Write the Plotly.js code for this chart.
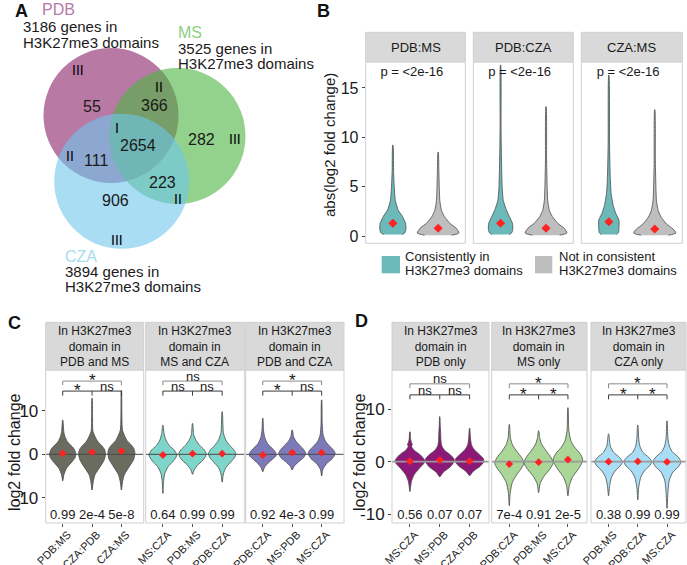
<!DOCTYPE html>
<html><head><meta charset="utf-8">
<script src="https://cdn.plot.ly/plotly-3.0.1.min.js"></script>
<style>html,body{margin:0;padding:0;background:#fff}#chart{width:687px;height:565px}</style>
</head><body><div id="chart"></div>
<script>
const W = 687, H = 565;
const FONT = '"Liberation Sans", Arial, Helvetica, sans-serif';
const TXT = '#1a1a1a';

// ---------------- Panel A data (Venn) ----------------
const vennSets = ["PDB", "MS", "CZA"];
const vennTotals = [3186, 3525, 3894];
const vennCounts = [55, 366, 2654, 282, 111, 223, 906];     // PDB only, PDB&MS, all, MS only, PDB&CZA, MS&CZA, CZA only
const vennClasses = ["III", "II", "I", "III", "II", "II", "III"];

// ---------------- Panel B data ----------------
const bPanels = ["PDB:MS", "PDB:CZA", "CZA:MS"];
const bGroups = [["Consistently in", "H3K27me3 domains"], ["Not in consistent", "H3K27me3 domains"]];
const bPvals = ["p = &lt;2e-16", "p = &lt;2e-16", "p = &lt;2e-16"];
const bMeans = [[1.29, 0.78], [1.29, 0.78], [1.45, 0.71]];
const bProfileY = [
  [[0.15,0.35,0.8,1.3,1.7,2.0,2.6,3.6,5.0,6.7,9.2], [0.08,0.3,0.78,1.28,1.96,2.6,3.6,5.0,6.7,8.5]],
  [[0.15,0.35,0.8,1.3,2.0,2.6,3.6,5.0,7.7,11,17.3], [0.08,0.3,0.78,1.28,1.96,2.6,3.6,5.0,7.5,13.1]],
  [[0.15,0.35,0.8,1.6,2.3,3.0,4.3,6.0,9.4,16.3], [0.08,0.3,0.7,1.2,1.9,2.6,3.6,5.0,7.5,12.8]]
];
const bProfileW = [
  [[0.2,0.27,0.29,0.28,0.24,0.21,0.12,0.055,0.03,0.015,0.004], [0.3,0.46,0.40,0.26,0.14,0.073,0.037,0.025,0.015,0.003]],
  [[0.19,0.25,0.27,0.26,0.19,0.13,0.06,0.035,0.02,0.01,0.003], [0.3,0.46,0.40,0.26,0.14,0.073,0.037,0.025,0.013,0.003]],
  [[0.17,0.21,0.22,0.22,0.15,0.1,0.05,0.03,0.015,0.003], [0.3,0.46,0.40,0.26,0.14,0.073,0.037,0.025,0.013,0.003]]
];

// ---------------- Panel C data ----------------
const cStrips = ["In H3K27me3<br>domain in<br>PDB and MS", "In H3K27me3<br>domain in<br>MS and CZA", "In H3K27me3<br>domain in<br>PDB and CZA"];
const cLabels = [["PDB:MS","CZA:PDB","CZA:MS"], ["MS:CZA","PDB:MS","PDB:CZA"], ["PDB:CZA","MS:PDB","MS:CZA"]];
const cPvals = [["0.99","2e-4","5e-8"], ["0.64","0.99","0.99"], ["0.92","4e-3","0.99"]];
const cMeans = [[0.2,0.5,0.75], [-0.15,0.15,0.15], [-0.15,0.38,0.38]];
const cSig = [["*","*","ns"], ["ns","ns","ns"], ["*","*","ns"]];   // top, lower-left, lower-right
const cProfileY = [
  [[-6.1,-4.7,-3.2,-1.7,-0.8,0,0.8,1.5,2.9,4.2,5.3,7.9],
   [-8.2,-6.3,-4.7,-2.5,-1.2,0.2,1.2,2.0,3.0,5.2,9.0,12.9],
   [-8.2,-6.3,-4.7,-2.5,-1.2,0.4,1.4,2.2,3.2,5.5,9.5,14.7]],
  [[-9.0,-6.5,-4.5,-2.8,-1.5,-0.2,1.0,2.0,3.3,4.8,6.7],
   [-4.6,-3.5,-2.5,-1.5,-0.5,0.2,1.0,2.0,3.2,4.5,7.1],
   [-6.4,-4.5,-3.0,-1.7,-0.6,0.2,1.0,2.0,3.3,5.0,9.8]],
  [[-4.0,-3.0,-2.0,-1.0,-0.2,0.6,1.5,2.5,3.8,5.5,8.3],
   [-3.6,-2.8,-1.8,-0.8,0.2,1.0,2.0,3.0,4.0,5.6],
   [-5.0,-3.5,-2.2,-1.0,0.2,1.0,2.0,3.0,4.5,7.0,12.5]]
];
const cProfileW = [
  [[0.005,0.04,0.13,0.32,0.42,0.45,0.42,0.36,0.16,0.07,0.035,0.005],
   [0.005,0.04,0.1,0.31,0.42,0.46,0.42,0.33,0.19,0.035,0.015,0.004],
   [0.005,0.04,0.1,0.3,0.42,0.46,0.42,0.33,0.19,0.04,0.015,0.004]],
  [[0.005,0.02,0.06,0.18,0.36,0.47,0.38,0.22,0.1,0.04,0.005],
   [0.005,0.06,0.17,0.33,0.44,0.46,0.4,0.25,0.12,0.04,0.005],
   [0.005,0.04,0.13,0.3,0.43,0.46,0.4,0.26,0.12,0.04,0.005]],
  [[0.005,0.06,0.18,0.35,0.46,0.42,0.3,0.16,0.07,0.025,0.005],
   [0.005,0.06,0.2,0.38,0.46,0.4,0.27,0.13,0.05,0.005],
   [0.005,0.04,0.16,0.36,0.46,0.4,0.26,0.13,0.05,0.02,0.004]]
];

// ---------------- Panel D data ----------------
const dStrips = ["In H3K27me3<br>domain in<br>PDB only", "In H3K27me3<br>domain in<br>MS only", "In H3K27me3<br>domain in<br>CZA only"];
const dLabels = [["MS:CZA","MS:PDB","CZA:PDB"], ["PDB:CZA","PDB:MS","MS:CZA"], ["PDB:MS","PDB:CZA","MS:CZA"]];
const dPvals = [["0.56","0.07","0.07"], ["7e-4","0.91","2e-5"], ["0.38","0.99","0.99"]];
const dMeans = [[0.1,0.3,0.1], [-0.45,-0.1,0.4], [0.0,0.05,-0.05]];
const dSig = [["ns","ns","ns"], ["*","*","*"], ["*","*","*"]];
const dProfileY = [
  [[-5.7,-3.8,-2.5,-1.3,-0.3,0.3,1.3,2.2,2.9,3.3,3.7,4.3,5.7],
   [-2.9,-2.0,-1.0,0,0.5,1.3,2.2,3.0,4.0,5.5,7.0,8.6],
   [-2.7,-1.8,-0.9,0,0.6,1.4,2.4,3.3,4.5,6.4]],
  [[-8.4,-6.0,-4.0,-2.5,-1.2,-0.3,0.8,2.0,3.2,4.5,7.1],
   [-5.9,-4.2,-2.8,-1.5,-0.2,1.0,2.2,3.4,4.5,5.9],
   [-6.5,-4.5,-3.0,-1.5,-0.3,0.5,1.5,2.8,4.0,6.0,10.3]],
  [[-6.5,-4.5,-3.0,-1.8,-0.8,0,0.8,1.8,3.0,5.3],
   [-7.3,-5.0,-3.0,-1.8,-0.8,0,0.8,1.8,3.0,4.5,7.0],
   [-8.9,-6.0,-3.5,-2.0,-0.9,0,0.9,1.9,3.0,4.5,7.8]]
];
const dProfileW = [
  [[0.005,0.05,0.14,0.31,0.47,0.49,0.35,0.14,0.055,0.08,0.05,0.025,0.005],
   [0.005,0.12,0.35,0.48,0.48,0.36,0.16,0.07,0.04,0.03,0.015,0.004],
   [0.005,0.13,0.35,0.48,0.46,0.32,0.14,0.06,0.03,0.004]],
  [[0.005,0.03,0.1,0.25,0.42,0.5,0.42,0.25,0.11,0.04,0.005],
   [0.005,0.05,0.18,0.37,0.5,0.4,0.24,0.1,0.04,0.005],
   [0.005,0.05,0.15,0.34,0.47,0.5,0.42,0.22,0.1,0.03,0.004]],
  [[0.005,0.04,0.1,0.22,0.4,0.48,0.38,0.17,0.06,0.005],
   [0.005,0.03,0.1,0.22,0.4,0.48,0.38,0.17,0.07,0.03,0.004],
   [0.005,0.03,0.08,0.2,0.4,0.48,0.38,0.18,0.08,0.03,0.004]]
];

// ---------------- styling / geometry ----------------
const bColors = ['#6cb9ba', '#bebebe'];
const cColors = ['#6a6c5f', '#7ed6ca', '#7d7ab9'];
const dColors = ['#8c1978', '#aad698', '#a8def5'];
const vennFill = ['rgba(137,33,105,0.6)', 'rgba(75,180,63,0.6)', 'rgba(110,198,237,0.6)'];
const vennLabelColor = ['#b57aa9', '#8fce86', '#a6dbf3'];
const vennCircles = [[111, 115.5, 67.5], [177.5, 136, 68], [121.7, 181.3, 67.5]];
const vennTitlePos = [[40, 9.5, 20.7, 27, 42], [176, 32.5, 176, 48.5, 63.5], [62.7, 256, 62.7, 271, 286]];
const vennCountPos = [[92.3,106.7],[154,105],[137.7,145.7],[201,139.3],[95.7,160.7],[162,182.7],[115,200.7]];
const vennClassPos = [[78.3,70],[158.7,87.3],[116.7,128.3],[235,139.3],[70,156],[177.7,199],[116.7,240]];

const bDom = [[365.7,465.3],[473.3,573.3],[581.3,682.3]];
const bYdom = [62, 243.3];
const cDom = [[45.7,143.7],[145.7,244.7],[245.7,344]];
const dDom = [[392,489],[491.7,587],[591,686]];
const cdYdom = [370, 523];
const bXr = [0.4, 2.6], bYr = [-0.74, 17.63];
const cXr = [0.42, 3.76], cYr = [-15.8, 19.4];
const dXr = [0.4, 3.65], dYr = [-11.7, 17.5];

const px = x => x / W, py = y => 1 - y / H;
const sfx = n => (n === 1 ? '' : String(n));

const traces = [];
const layout = {
  width: W, height: H, margin: {l:0, r:0, t:0, b:0},
  paper_bgcolor: '#ffffff', plot_bgcolor: '#ffffff', showlegend: false,
  font: {family: FONT, color: TXT},
  shapes: [], annotations: []
};

function setAxes(n, xd, yd, xr, yr, xopt, yopt) {
  layout['xaxis' + sfx(n)] = Object.assign({domain:[px(xd[0]), px(xd[1])], range:xr, anchor:'y'+sfx(n),
    showgrid:false, zeroline:false, showline:false, fixedrange:true, ticks:'', showticklabels:false}, xopt || {});
  layout['yaxis' + sfx(n)] = Object.assign({domain:[py(yd[1]), py(yd[0])], range:yr, anchor:'x'+sfx(n),
    showgrid:false, zeroline:false, showline:false, fixedrange:true, ticks:'', showticklabels:false}, yopt || {});
  layout.shapes.push({type:'rect', xref:'x'+sfx(n)+' domain', yref:'y'+sfx(n)+' domain', x0:0, x1:1, y0:0, y1:1,
    line:{color:'#cfcfcf', width:1}, fillcolor:'rgba(0,0,0,0)', layer:'above'});
}
function strip(xd, y0, y1, text, size) {
  layout.shapes.push({type:'rect', xref:'paper', yref:'paper', x0:px(xd[0]), x1:px(xd[1]), y0:py(y1), y1:py(y0),
    line:{color:'#d0d0d0', width:1}, fillcolor:'#d9d9d9', layer:'above'});
  layout.annotations.push({xref:'paper', yref:'paper', x:px((xd[0]+xd[1])/2), y:py((y0+y1)/2), text:text,
    showarrow:false, xanchor:'center', yanchor:'middle', align:'center', font:{size:size, color:TXT}});
}
function violin(n, center, ys, ws, fill) {
  const right = ys.map((y, i) => center + ws[i]);
  const left = ys.map((y, i) => center - ws[i]).reverse();
  traces.push({type:'scatter', mode:'lines', x:right.concat(left), y:ys.concat(ys.slice().reverse()),
    xaxis:'x'+sfx(n), yaxis:'y'+sfx(n), fill:'toself', fillcolor:fill,
    line:{color:'#4a4a4a', width:0.8, shape:'spline', smoothing:0.6}, hoverinfo:'skip'});
}
function zeroLine(n, xr, color, width) {
  traces.push({type:'scatter', mode:'lines', x:xr, y:[0,0], xaxis:'x'+sfx(n), yaxis:'y'+sfx(n),
    line:{color:color, width:width}, hoverinfo:'skip'});
}
function means(n, xs, ms, size) {
  traces.push({type:'scatter', mode:'markers', x:xs, y:ms, xaxis:'x'+sfx(n), yaxis:'y'+sfx(n),
    marker:{symbol:'diamond', size:size, color:'#ff2222', line:{width:0}}, hoverinfo:'skip'});
}
function brackets(n, tTop, tTick, lTop, lTick, sig, sy) {
  traces.push({type:'scatter', mode:'lines', x:[1,1,3,3], y:[tTick,tTop,tTop,tTick], xaxis:'x'+sfx(n), yaxis:'y'+sfx(n),
    line:{color:'#8a8a8a', width:1}, hoverinfo:'skip'});
  traces.push({type:'scatter', mode:'lines', x:[1,1,3,3,null,2,2], y:[lTick,lTop,lTop,lTick,null,lTop,lTick],
    xaxis:'x'+sfx(n), yaxis:'y'+sfx(n), line:{color:'#3a3a3a', width:1}, hoverinfo:'skip'});
  const pos = [[2, sy[0]], [1.5, sy[1]], [2.5, sy[1]]];
  sig.forEach((s, i) => {
    const star = s === '*';
    layout.annotations.push({xref:'x'+sfx(n), yref:'y'+sfx(n), x:pos[i][0], y:pos[i][1] - (star ? sy[2] : 0),
      text:s, showarrow:false, xanchor:'center', yanchor:'middle', font:{size: star ? 17 : 13, color:TXT}});
  });
}

// ---------------- Panel A ----------------
vennCircles.forEach((c, i) => {
  layout.shapes.push({type:'circle', xref:'paper', yref:'paper', x0:px(c[0]-c[2]), x1:px(c[0]+c[2]),
    y0:py(c[1]+c[2]), y1:py(c[1]-c[2]), fillcolor:vennFill[i], line:{width:0}, layer:'above'});
});
vennSets.forEach((s, i) => {
  const p = vennTitlePos[i];
  layout.annotations.push({xref:'paper', yref:'paper', x:px(p[0]), y:py(p[1]), text:s, showarrow:false,
    xanchor:'left', yanchor:'middle', font:{size:16, color:vennLabelColor[i]}});
  layout.annotations.push({xref:'paper', yref:'paper', x:px(p[2]), y:py(p[3]), text:vennTotals[i] + ' genes in',
    showarrow:false, xanchor:'left', yanchor:'middle', font:{size:15, color:TXT}});
  layout.annotations.push({xref:'paper', yref:'paper', x:px(p[2]), y:py(p[4]), text:'H3K27me3 domains',
    showarrow:false, xanchor:'left', yanchor:'middle', font:{size:15, color:TXT}});
});
vennCounts.forEach((v, i) => {
  layout.annotations.push({xref:'paper', yref:'paper', x:px(vennCountPos[i][0]), y:py(vennCountPos[i][1]), text:String(v),
    showarrow:false, xanchor:'center', yanchor:'middle', font:{size:16, color:TXT}});
  layout.annotations.push({xref:'paper', yref:'paper', x:px(vennClassPos[i][0]), y:py(vennClassPos[i][1]), text:vennClasses[i],
    showarrow:false, xanchor:'center', yanchor:'middle', font:{size:14, color:'#000'}});
});

// ---------------- Panel B ----------------
bPanels.forEach((name, k) => {
  const n = k + 1;
  setAxes(n, bDom[k], bYdom, bXr, bYr, {},
    k === 0 ? {showticklabels:true, ticks:'outside', ticklen:3, tickcolor:'#444', tickvals:[0,5,10,15], tickfont:{size:16, color:TXT}} : {});
  strip(bDom[k], 32.3, 61.7, name, 13);
  [0, 1].forEach(g => violin(n, g + 1, bProfileY[k][g], bProfileW[k][g], bColors[g]));
  means(n, [1, 2], bMeans[k], 7);
  traces.push({type:'scatter', mode:'text', x:[1.42], y:[16.5], text:[bPvals[k]], textposition:'middle center',
    textfont:{size:13, color:TXT, family:FONT}, xaxis:'x'+sfx(n), yaxis:'y'+sfx(n), hoverinfo:'skip'});
});
layout.annotations.push({xref:'paper', yref:'paper', x:px(330), y:py(145), text:'abs(log2 fold change)', textangle:-90,
  showarrow:false, xanchor:'center', yanchor:'middle', font:{size:15, color:TXT}});
// legend
const legBox = [[381.7, 400], [535, 552.3]];
const legText = [402.7, 556.7];
bGroups.forEach((g, i) => {
  layout.shapes.push({type:'rect', xref:'paper', yref:'paper', x0:px(legBox[i][0]), x1:px(legBox[i][1]),
    y0:py(273.3), y1:py(256), fillcolor:bColors[i], line:{width:0}, layer:'above'});
  layout.annotations.push({xref:'paper', yref:'paper', x:px(legText[i]), y:py(256.7), text:g[0], showarrow:false,
    xanchor:'left', yanchor:'middle', font:{size:13, color:TXT}});
  layout.annotations.push({xref:'paper', yref:'paper', x:px(legText[i]), y:py(270.5), text:g[1], showarrow:false,
    xanchor:'left', yanchor:'middle', font:{size:13, color:TXT}});
});

// ---------------- Panels C and D ----------------
function facetPanel(n, k, xd, xr, yr, strips, labels, pvals, mvals, sig, profY, profW, colors, zlColor, zlWidth, br, pvY) {
  setAxes(n, xd, cdYdom, xr, yr,
    {tickvals:[1,2,3], ticktext:labels[k], showticklabels:true, ticks:'outside', ticklen:3, tickcolor:'#555',
     tickangle:-45, tickfont:{size:11, color:'#222'}, ticklabelstandoff:-3, ticklabelshift:5},
    k === 0 ? {showticklabels:true, ticks:'outside', ticklen:3, tickcolor:'#444', tickvals:[-10,0,10],
     ticktext:['-10','0','10'], tickfont:{size:17, color:TXT}} : {});
  strip(xd, 322.3, 370, strips[k], 12);
  [0,1,2].forEach(j => violin(n, j + 1, profY[k][j], profW[k][j], colors[k]));
  zeroLine(n, xr, zlColor, zlWidth);
  means(n, [1,2,3], mvals[k], 6);
  brackets(n, br[0], br[1], br[2], br[3], sig[k], br.slice(4));
  traces.push({type:'scatter', mode:'text', x:[1,2,3], y:[pvY,pvY,pvY], text:pvals[k], textposition:'middle center',
    textfont:{size:13, color:TXT, family:FONT}, xaxis:'x'+sfx(n), yaxis:'y'+sfx(n), hoverinfo:'skip'});
}
[0,1,2].forEach(k => facetPanel(4 + k, k, cDom[k], cXr, cYr, cStrips, cLabels, cPvals, cMeans, cSig,
  cProfileY, cProfileW, cColors, '#4a4a4a', 1, [16.85, 15.9, 14.55, 13.5, 17.9, 15.5, 0.9], -14.1));
[0,1,2].forEach(k => facetPanel(7 + k, k, dDom[k], dXr, dYr, dStrips, dLabels, dPvals, dMeans, dSig,
  dProfileY, dProfileW, dColors, '#9a9a9a', 1.8, [14.86, 14.0, 12.75, 11.9, 15.8, 13.6, 0.8], -10.3));

layout.annotations.push({xref:'paper', yref:'paper', x:px(14), y:py(452), text:'log2 fold change', textangle:-90,
  showarrow:false, xanchor:'center', yanchor:'middle', font:{size:16, color:TXT}});
layout.annotations.push({xref:'paper', yref:'paper', x:px(359), y:py(452), text:'log2 fold change', textangle:-90,
  showarrow:false, xanchor:'center', yanchor:'middle', font:{size:16, color:TXT}});

// panel letters
[['A',21,11],['B',323,11],['C',14,323],['D',361,321]].forEach(l => {
  layout.annotations.push({xref:'paper', yref:'paper', x:px(l[1]), y:py(l[2]), text:'<b>'+l[0]+'</b>', showarrow:false,
    xanchor:'center', yanchor:'middle', font:{size:18, color:'#111'}});
});

Plotly.newPlot('chart', traces, layout, {staticPlot:true, displayModeBar:false});
</script>
</body></html>
